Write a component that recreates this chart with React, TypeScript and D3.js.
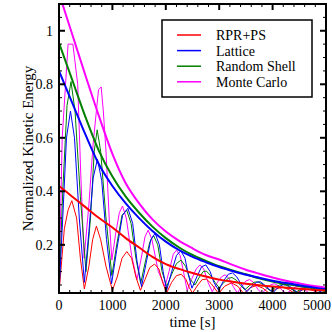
import { useEffect, useRef } from 'react';
import * as d3 from 'd3';

// envelope curves, sampled every 250 s
const envTime = [0, 250, 500, 750, 1000, 1250, 1500, 1750, 2000, 2250, 2500, 2750, 3000, 3250, 3500, 3750, 4000, 4250, 4500, 4750, 5000];
const rprEnv = [0.42, 0.38, 0.34, 0.30, 0.265, 0.225, 0.19, 0.155, 0.128, 0.11, 0.095, 0.082, 0.07, 0.062, 0.055, 0.049, 0.044, 0.04, 0.036, 0.032, 0.029];
const latticeEnv = [0.85, 0.73, 0.61, 0.50, 0.42, 0.355, 0.30, 0.252, 0.212, 0.18, 0.155, 0.135, 0.117, 0.102, 0.088, 0.077, 0.066, 0.057, 0.049, 0.041, 0.034];
const shellEnv = [0.955, 0.815, 0.675, 0.55, 0.455, 0.38, 0.32, 0.268, 0.225, 0.19, 0.162, 0.14, 0.12, 0.104, 0.09, 0.075, 0.063, 0.054, 0.046, 0.038, 0.031];
const monteEnv = [1.14, 0.985, 0.83, 0.68, 0.54, 0.43, 0.355, 0.295, 0.25, 0.215, 0.187, 0.162, 0.145, 0.125, 0.107, 0.092, 0.078, 0.066, 0.056, 0.047, 0.04];

// oscillating runs: [time, energy]
const rprOsc = [
  [0, 0.02], [100, 0.26], [170, 0.33], [240, 0.365], [330, 0.30], [400, 0.15], [475, 0.035],
  [560, 0.12], [630, 0.22], [700, 0.27], [780, 0.22], [880, 0.12], [1000, 0.03],
  [1090, 0.08], [1180, 0.15], [1270, 0.175], [1360, 0.15], [1440, 0.08], [1525, 0.03],
  [1610, 0.07], [1700, 0.115], [1790, 0.128], [1870, 0.11], [1940, 0.06], [2015, 0.02],
  [2110, 0.06], [2200, 0.085], [2290, 0.09], [2380, 0.07], [2440, 0.04], [2500, 0.02],
  [2600, 0.05], [2680, 0.07], [2760, 0.072], [2850, 0.055], [2990, 0.018],
  [3100, 0.045], [3230, 0.058], [3350, 0.045], [3460, 0.018],
  [3580, 0.04], [3700, 0.048], [3820, 0.038], [3940, 0.018],
  [4060, 0.035], [4190, 0.042], [4300, 0.033], [4420, 0.018],
  [4540, 0.03], [4660, 0.036], [4780, 0.028], [4900, 0.018], [5000, 0.025],
];
const latticeOsc = [
  [0, 0.02], [70, 0.3], [140, 0.6], [215, 0.7], [290, 0.6], [380, 0.3], [475, 0.06],
  [560, 0.25], [640, 0.45], [720, 0.52], [800, 0.44], [890, 0.22], [985, 0.055],
  [1080, 0.18], [1190, 0.31], [1290, 0.337], [1380, 0.28], [1460, 0.14], [1545, 0.044],
  [1640, 0.14], [1720, 0.22], [1800, 0.243], [1880, 0.2], [1950, 0.1], [2016, 0.03],
  [2110, 0.1], [2200, 0.16], [2280, 0.178], [2360, 0.15], [2420, 0.09], [2490, 0.038],
  [2580, 0.08], [2670, 0.118], [2750, 0.125], [2830, 0.1], [2900, 0.06], [2990, 0.03],
  [3080, 0.065], [3170, 0.09], [3250, 0.095], [3330, 0.08], [3420, 0.05], [3520, 0.025],
  [3610, 0.045], [3700, 0.06], [3770, 0.062], [3850, 0.05], [3930, 0.035], [4010, 0.022],
  [4100, 0.04], [4180, 0.05], [4250, 0.052], [4330, 0.044], [4400, 0.032], [4480, 0.02],
  [4570, 0.035], [4650, 0.043], [4720, 0.045], [4800, 0.038], [4870, 0.028], [4950, 0.02], [5000, 0.025],
];
const shellOsc = [
  [0, 0.02], [70, 0.4], [150, 0.72], [225, 0.81], [300, 0.7], [400, 0.38], [505, 0.1],
  [590, 0.3], [660, 0.55], [715, 0.63], [780, 0.55], [880, 0.3], [990, 0.085],
  [1080, 0.2], [1180, 0.31], [1267, 0.33], [1350, 0.28], [1440, 0.15], [1530, 0.056],
  [1620, 0.14], [1700, 0.21], [1770, 0.235], [1850, 0.2], [1930, 0.1], [2016, 0.044],
  [2110, 0.09], [2200, 0.13], [2285, 0.143], [2370, 0.12], [2460, 0.07], [2547, 0.05],
  [2630, 0.08], [2700, 0.1], [2760, 0.102], [2840, 0.085], [2920, 0.06], [3000, 0.04],
  [3090, 0.06], [3170, 0.075], [3240, 0.078], [3320, 0.068], [3400, 0.048], [3480, 0.032],
  [3570, 0.048], [3650, 0.06], [3720, 0.062], [3800, 0.054], [3880, 0.04], [3960, 0.028],
  [4050, 0.04], [4130, 0.05], [4200, 0.052], [4280, 0.046], [4360, 0.034], [4440, 0.024],
  [4530, 0.034], [4610, 0.042], [4680, 0.044], [4760, 0.039], [4840, 0.03], [4920, 0.022], [5000, 0.028],
];
const monteOsc = [
  [0, 0.02], [60, 0.6], [170, 0.95], [260, 0.95], [350, 0.8], [410, 0.45], [470, 0.15],
  [560, 0.35], [640, 0.58], [740, 0.78], [790, 0.79], [830, 0.7], [880, 0.55], [940, 0.3], [990, 0.143],
  [1060, 0.24], [1130, 0.32], [1190, 0.345], [1260, 0.3], [1360, 0.16], [1460, 0.07],
  [1540, 0.15], [1610, 0.23], [1670, 0.255], [1740, 0.22], [1860, 0.1], [1985, 0.044],
  [2060, 0.1], [2140, 0.165], [2200, 0.18], [2270, 0.16], [2340, 0.09], [2400, 0.03],
  [2480, 0.07], [2570, 0.11], [2640, 0.125], [2710, 0.11], [2790, 0.06], [2870, 0.025],
  [2950, 0.055], [3040, 0.08], [3110, 0.088], [3180, 0.075], [3260, 0.045], [3340, 0.02],
  [3420, 0.045], [3500, 0.065], [3570, 0.07], [3640, 0.06], [3720, 0.035], [3800, 0.018],
  [3880, 0.035], [3960, 0.05], [4030, 0.055], [4100, 0.048], [4180, 0.03], [4260, 0.018],
  [4340, 0.03], [4420, 0.042], [4490, 0.045], [4560, 0.04], [4640, 0.026], [4720, 0.016],
  [4800, 0.026], [4880, 0.034], [4950, 0.036], [5000, 0.034],
];

const seriesNames = ['RPR+PS', 'Lattice', 'Random Shell', 'Monte Carlo'];
const seriesColors = ['#ff0000', '#0000ff', '#008000', '#ff00ff'];

const xTicks = [0, 1000, 2000, 3000, 4000, 5000];
const yTicks = [0.2, 0.4, 0.6, 0.8, 1];
const yTickLabels = ['0.2', '0.4', '0.6', '0.8', '1'];

const App = () => {
  const ref = useRef(null);

  useEffect(() => {
    const W = 332, H = 332;
    const m = { top: 4, right: 6, bottom: 39, left: 59 };
    const font = '"Liberation Serif", "Times New Roman", serif';

    d3.select(ref.current).selectAll('svg').remove();

    const svg = d3.select(ref.current)
      .append('svg')
      .attr('width', W)
      .attr('height', H)
      .style('position', 'absolute')
      .style('left', '0px')
      .style('top', '0px')
      .style('background', '#fff');

    const x = d3.scaleLinear().domain([0, 5000]).range([m.left, W - m.right]);
    const y = d3.scaleLinear().domain([0.02, 1.1]).range([H - m.bottom, m.top]);

    svg.append('clipPath').attr('id', 'plotclip')
      .append('rect')
      .attr('x', m.left).attr('y', m.top)
      .attr('width', W - m.left - m.right).attr('height', H - m.top - m.bottom);

    const plot = svg.append('g').attr('clip-path', 'url(#plotclip)');

    const pairLine = d3.line().x(d => x(d[0])).y(d => y(d[1]));
    const envLine = d3.line()
      .x((d, i) => x(envTime[i]))
      .y(d => y(d))
      .curve(d3.curveMonotoneX);

    // thin oscillating curves
    const osc = [monteOsc, rprOsc, shellOsc, latticeOsc];
    const oscColor = [seriesColors[3], seriesColors[0], seriesColors[2], seriesColors[1]];
    osc.forEach((s, i) => {
      plot.append('path')
        .datum(s)
        .attr('fill', 'none')
        .attr('stroke', oscColor[i])
        .attr('stroke-width', 1)
        .attr('stroke-linejoin', 'round')
        .attr('d', pairLine);
    });

    // thick envelopes
    const env = [monteEnv, shellEnv, latticeEnv, rprEnv];
    const envColor = [seriesColors[3], seriesColors[2], seriesColors[1], seriesColors[0]];
    env.forEach((s, i) => {
      plot.append('path')
        .datum(s)
        .attr('fill', 'none')
        .attr('stroke', envColor[i])
        .attr('stroke-width', 2)
        .attr('d', envLine);
    });

    // frame + ticks on all four sides, pointing inward
    const x0 = m.left, x1 = W - m.right, y0 = m.top, y1 = H - m.bottom;
    const ax = svg.append('g').attr('stroke', '#000');

    d3.range(0, 5001, 200).forEach(t => {
      const major = t % 1000 === 0;
      const len = major ? 6 : 3;
      ax.append('line').attr('x1', x(t)).attr('x2', x(t)).attr('y1', y1).attr('y2', y1 - len)
        .attr('stroke-width', major ? 2 : 1);
      ax.append('line').attr('x1', x(t)).attr('x2', x(t)).attr('y1', y0).attr('y2', y0 + len)
        .attr('stroke-width', major ? 2 : 1);
    });
    d3.range(1, 22).map(k => k * 0.05).forEach(v => {
      const major = Math.abs(v * 5 - Math.round(v * 5)) < 1e-6;
      const len = major ? 6 : 3;
      ax.append('line').attr('x1', x0).attr('x2', x0 + len).attr('y1', y(v)).attr('y2', y(v))
        .attr('stroke-width', major ? 2 : 1);
      ax.append('line').attr('x1', x1).attr('x2', x1 - len).attr('y1', y(v)).attr('y2', y(v))
        .attr('stroke-width', major ? 2 : 1);
    });

    ax.append('rect')
      .attr('x', x0).attr('y', y0)
      .attr('width', x1 - x0).attr('height', y1 - y0)
      .attr('fill', 'none')
      .attr('stroke-width', 2);

    // tick labels (last one kept inside the window)
    svg.append('g').selectAll('text').data(xTicks).join('text')
      .attr('x', (d, i) => i === xTicks.length - 1 ? W - 1 : x(d))
      .attr('y', y1 + 17)
      .attr('text-anchor', (d, i) => i === xTicks.length - 1 ? 'end' : 'middle')
      .attr('font-family', font)
      .attr('font-size', 14)
      .text(d => d);

    svg.append('g').selectAll('text').data(yTicks).join('text')
      .attr('x', x0 - 6)
      .attr('y', d => y(d))
      .attr('dy', '0.35em')
      .attr('text-anchor', 'end')
      .attr('font-family', font)
      .attr('font-size', 14)
      .text((d, i) => yTickLabels[i]);

    // axis titles
    svg.append('text')
      .attr('x', (x0 + x1) / 2)
      .attr('y', y1 + 34)
      .attr('text-anchor', 'middle')
      .attr('font-family', font)
      .attr('font-size', 15)
      .text('time [s]');

    svg.append('text')
      .attr('transform', `translate(33,${(y0 + y1) / 2}) rotate(-90)`)
      .attr('text-anchor', 'middle')
      .attr('font-family', font)
      .attr('font-size', 15)
      .text('Normalized Kinetic Energy');

    // legend
    const lg = svg.append('g').attr('transform', 'translate(162,20)');
    lg.append('rect')
      .attr('width', 150).attr('height', 77)
      .attr('fill', '#fff')
      .attr('stroke', '#000')
      .attr('stroke-width', 1.5);
    seriesNames.forEach((name, i) => {
      const ry = 15 + i * 15.6;
      lg.append('line')
        .attr('x1', 15).attr('x2', 39)
        .attr('y1', ry).attr('y2', ry)
        .attr('stroke', seriesColors[i])
        .attr('stroke-width', 1.5);
      lg.append('text')
        .attr('x', 54).attr('y', ry)
        .attr('dy', '0.35em')
        .attr('font-family', font)
        .attr('font-size', 14)
        .text(name);
    });
  }, []);

  return <div ref={ref}></div>;
};

export default App;
